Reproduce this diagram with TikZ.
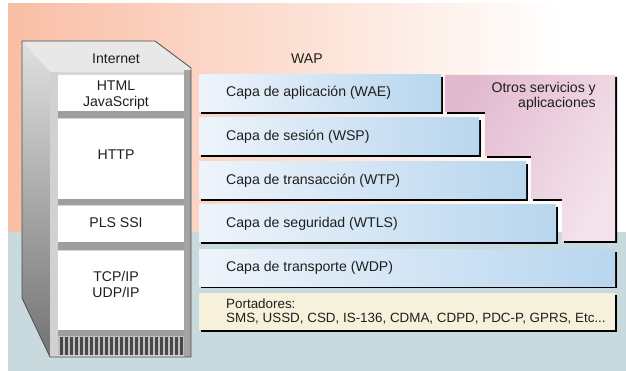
\documentclass[tikz,border=0pt]{standalone}
\usepackage{fontspec}
\setmainfont{Liberation Sans}
\definecolor{salmon}{RGB}{249,190,165}
\definecolor{bgblue}{RGB}{200,218,222}
\definecolor{layerL}{RGB}{238,244,251}
\definecolor{layerR}{RGB}{184,214,238}
\definecolor{pinkA}{RGB}{226,186,207}
\definecolor{pinkB}{RGB}{244,226,236}
\definecolor{bearer}{RGB}{247,241,220}
\definecolor{txt}{RGB}{30,30,30}
\begin{document}
\begin{tikzpicture}[x=1pt,y=-1pt,
  font=\fontsize{14.1}{15.5}\selectfont,
  lbl/.style={inner sep=0pt, anchor=west, text=txt},
  ctr/.style={inner sep=0pt, align=center, text=txt},
  shadowfill/.style={fill=black},
  layerfill/.style={left color=layerL, right color=layerR},
  whitebox/.style={fill=white},
  gapbar/.style={fill=black!38}]
\useasboundingbox (0,0) rectangle (626,371);
% background
\fill[white] (0,0) rectangle (626,371);
\shade[left color=salmon, right color=white] (8,4) rectangle (560,232);
\fill[bgblue] (8,232) rectangle (626,371);

% ---- Internet tower ----
\fill[black!16] (22,41) -- (155,41) -- (191,68) -- (191,357) -- (50,357) -- (22,298) -- cycle;
\fill[black!9] (22,41) -- (155,41) -- (191,68) -- (191,72) -- (50,72) -- cycle;
\shade[top color=black!12, bottom color=black!55] (22,41) -- (50,72) -- (50,357) -- (22,298) -- cycle;
\fill[black!18] (50,72) rectangle (58,357);
\fill[black!36] (184,70) rectangle (191,357);
% white boxes with gray bars below
\fill[gapbar] (58,111) rectangle (184,118);
\fill[gapbar] (58,199) rectangle (184,205);
\fill[gapbar] (58,242) rectangle (184,250);
\fill[gapbar] (58,330) rectangle (184,336);
\fill[whitebox] (58,75) rectangle (184,111);
\fill[whitebox] (58,119) rectangle (184,199);
\fill[whitebox] (58,206) rectangle (184,242);
\fill[whitebox] (58,251) rectangle (184,330);
% grille
\fill[black!25] (58,336) rectangle (184,355);
\foreach \gx in {60,65,...,180} {
  \fill[black!72] (\gx,337) rectangle (\gx+2.6,355);
}
\draw[black!70, line width=0.8pt, line join=round] (22,41) -- (155,41) -- (191,68) -- (191,357) -- (50,357) -- (22,298) -- cycle;

\node[ctr] (internet) at (116,59) {Internet};
\node[ctr] (html) at (116,95) {HTML\\JavaScript};
\node[ctr] (http) at (116,155) {HTTP};
\node[ctr] (pls) at (116,223) {PLS SSI};
\node[ctr] (tcp) at (116,284.5) {TCP/IP\\UDP/IP};

% ---- WAP side ----
\node[ctr] (wap) at (307,59) {WAP};

% pink region
\fill[shadowfill] (447,77) -- (617,77) -- (617,243) -- (564,243) -- (564,201) -- (533,201) -- (533,158) -- (487,158) -- (487,114) -- (447,114) -- cycle;
\shade[left color=pinkA, right color=pinkB, shading angle=60] (445,75) -- (615,75) -- (615,241) -- (562,241) -- (562,199) -- (531,199) -- (531,156) -- (485,156) -- (485,112) -- (445,112) -- cycle;
\node[inner sep=0pt, align=right, anchor=north east, text=txt] (otros) at (596,82) {Otros servicios y\\aplicaciones};

% layer boxes
\foreach \ya/\yb/\xb in {75/112/441, 118/155/479, 162/199/526, 205/242/556, 250/286/615} {
  \fill[shadowfill] (201,\ya+2) rectangle (\xb+2,\yb+2);
  \shade[layerfill] (199,\ya) rectangle (\xb,\yb);
}
\fill[shadowfill] (201,295) rectangle (617,332);
\fill[bearer] (199,293) rectangle (615,330);

\node[lbl] (wae) at (226,93) {Capa de aplicación (WAE)};
\node[lbl] (wsp) at (226,137) {Capa de sesión (WSP)};
\node[lbl] (wtp) at (226,181) {Capa de transacción (WTP)};
\node[lbl] (wtls) at (226,224) {Capa de seguridad (WTLS)};
\node[lbl] (wdp) at (226,268) {Capa de transporte (WDP)};
\node[lbl, align=left, font=\fontsize{13.4}{14.5}\selectfont] (port) at (226,311.5) {Portadores:\\SMS, USSD, CSD, IS-136, CDMA, CDPD, PDC-P, GPRS, Etc...};
\end{tikzpicture}
\end{document}
